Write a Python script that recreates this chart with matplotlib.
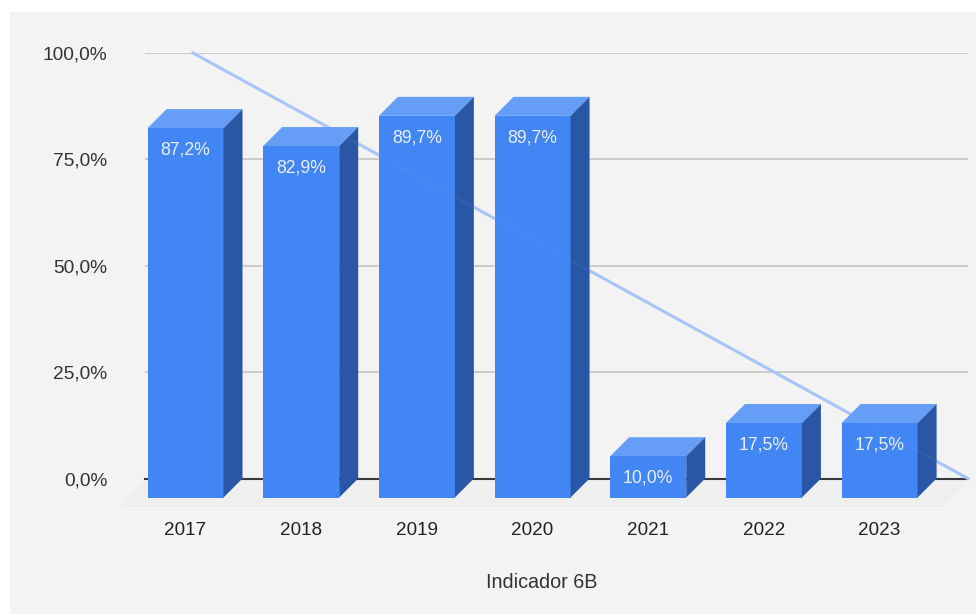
import matplotlib
matplotlib.use("Agg")
import matplotlib.pyplot as plt
from matplotlib.patches import Polygon, Rectangle
from matplotlib.ticker import FuncFormatter

plt.rcParams['font.family'] = ['Liberation Sans', 'DejaVu Sans']

years = ["2017", "2018", "2019", "2020", "2021", "2022", "2023"]
values = [86.8, 82.6, 89.7, 89.7, 9.7, 17.5, 17.5]
labels = ["87,2%", "82,9%", "89,7%", "89,7%", "10,0%", "17,5%", "17,5%"]
trend_x = [-0.10, 6.60]
trend_y = [100, 0]
y_ticks = [0, 25, 50, 75, 100]

FRONT = "#4285f4"
TOP = "#669df6"
SIDE = "#2a56a6"
TREND = "#a9c5f7"
W, H = 976, 614

# bar spacing in px, and how far the 3d box goes back
step = 115.67
px_y = 425.5 / 100
depth_x = 19 / step
depth_y = 19 / px_y
bar_w = 76 / step

fig = plt.figure(figsize=(W / 100, H / 100), dpi=100, facecolor="white")
fig.add_artist(Rectangle((10 / W, 0), 1, 1 - 12 / H, transform=fig.transFigure,
                         facecolor="#f3f3f3", edgecolor="none", zorder=-1))
ax = fig.add_axes([145 / W, 1 - 478.5 / H, 823 / W, 425.5 / H])
ax.patch.set_visible(False)
ax.set_xlim(-59.5 / step, 6.6)
ax.set_ylim(0, 100)
for s in ax.spines.values():
    s.set_visible(False)

# floor
x0, x1 = ax.get_xlim()
ax.add_patch(Polygon([(x0, 0), (x1, 0), (x1 - 25 / step, -28.5 / px_y), (x0 - 25 / step, -28.5 / px_y)],
                     facecolor="#efefef", edgecolor="none", clip_on=False, zorder=0))

ax.set_yticks(y_ticks)
ax.yaxis.set_major_formatter(FuncFormatter(lambda v, p: f"{v:.1f}%".replace(".", ",")))
ax.grid(axis="y", color="#c8c8c8", lw=1.3, zorder=1)
ax.set_axisbelow(True)
ax.axhline(0, color="#3a3a3a", lw=1.5, zorder=1.5, clip_on=False)
ax.plot(trend_x, trend_y, color=TREND, lw=2.2, zorder=2, clip_on=False)

for i, v in enumerate(values):
    left = i - depth_x - bar_w / 2
    right = left + bar_w
    front_top = v - depth_y
    ax.bar(left + bar_w / 2, v, bar_w, bottom=-depth_y, color=FRONT, zorder=3, clip_on=False)
    ax.add_patch(Polygon([(left, front_top), (right, front_top), (right + depth_x, v), (left + depth_x, v)],
                         facecolor=TOP, edgecolor="none", zorder=3, clip_on=False))
    ax.add_patch(Polygon([(right, -depth_y), (right + depth_x, 0), (right + depth_x, v), (right, front_top)],
                         facecolor=SIDE, edgecolor="none", zorder=3, clip_on=False))
    ax.text(left + bar_w / 2, front_top - 22 / px_y, labels[i], color="#e8f0fe", fontsize=12.7,
            ha="center", va="center", zorder=5)

# the line shows a little through the boxes
ax.plot(trend_x, trend_y, color=TREND, lw=2.2, alpha=0.06, zorder=4, clip_on=False)

ax.set_xticks([i - depth_x for i in range(len(years))])
ax.set_xticklabels(years)
ax.tick_params(axis="x", length=0, pad=31.5, labelsize=13.6, labelcolor="#222222")
ax.tick_params(axis="y", length=0, pad=27, labelsize=13.8, labelcolor="#333333")
ax.set_xlabel("Indicador 6B", fontsize=14.2, color="#333333", labelpad=24)
ax.xaxis.set_label_coords(397 / 823, -95 / 425.5)

fig.savefig("out.png", dpi=100, facecolor=fig.get_facecolor())
